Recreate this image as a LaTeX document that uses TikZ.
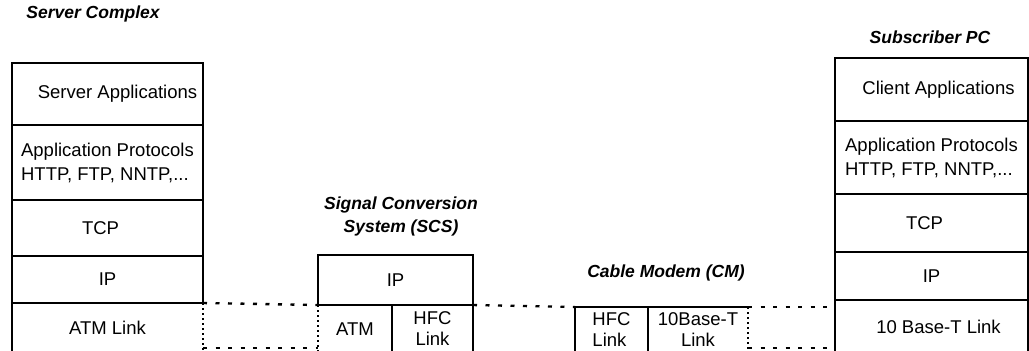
\documentclass[tikz,border=0pt]{standalone}
\usepackage{fontspec}
\setmainfont{Liberation Sans}
\usepackage{tikz}
\usetikzlibrary{positioning}

\newcommand{\lyrfont}{\fontsize{18.5}{21}\selectfont}
\newcommand{\ttlfont}{\fontsize{17.5}{23}\selectfont\bfseries\itshape}

\begin{document}
\begin{tikzpicture}[
			x=1pt, y=-1pt,
			layer/.style={
				draw,
				line width=2pt,
				anchor=north west,
				outer sep=0pt,
				inner sep=0pt,
				align=center,
				font=\lyrfont
			},
			linkcell/.style={layer, draw=none},
			title/.style={font=\ttlfont, align=center},
			edge/.style={line width=2pt},
			dotside/.style={line width=2pt, dash pattern=on 2pt off 3pt},
			wire/.style={line width=2.4pt, dash pattern=on 4pt off 8.5pt}
			]
			\useasboundingbox (0,0) rectangle (1029,351);
			
			% ---- Titles ----
			\node[title] (ltitle) at (93,14) {Server Complex};
			\node[title] (stitle) at (401,216) {Signal Conversion\\System (SCS)};
			\node[title] (ctitle) at (666,273) {Cable Modem (CM)};
			\node[title] (rtitle) at (930,37) {Subscriber PC};
			
			% ---- Server stack ----
			\node[layer, minimum width=191pt, minimum height=62pt] (lapp) at (12,63)
			{\hspace*{20pt}Server Applications};
			\node[layer, minimum width=191pt, minimum height=75pt, align=left,
			below=0pt of lapp.south west, anchor=north west] (lproto)
			{Application Protocols\\[3pt]HTTP, FTP, NNTP,...};
			\node[layer, minimum width=191pt, minimum height=56pt,
			below=0pt of lproto.south west, anchor=north west] (ltcp)
			{TCP\hspace*{14pt}};
			\node[layer, minimum width=191pt, minimum height=47pt,
			below=0pt of ltcp.south west, anchor=north west] (lip)
			{IP};
			\node[linkcell, minimum width=191pt, minimum height=50pt,
			below=0pt of lip.south west, anchor=north west] (llink)
			{ATM Link};
			
			% ---- SCS ----
			\node[layer, minimum width=155pt, minimum height=50pt] (sip) at (318,255)
			{IP};
			\node[linkcell, minimum width=74pt, minimum height=48pt,
			below=0pt of sip.south west, anchor=north west] (satm)
			{ATM};
			\node[layer, minimum width=81pt, minimum height=48pt,
			right=0pt of satm.north east, anchor=north west] (shfc)
			{HFC\\Link};
			
			% ---- Cable modem ----
			\node[layer, minimum width=73pt, minimum height=46pt, align=left] (chfc) at (575,307)
			{HFC\\Link};
			\node[linkcell, minimum width=100pt, minimum height=46pt,
			right=0pt of chfc.north east, anchor=north west] (cbase)
			{10Base-T\\Link};
			
			% ---- Subscriber stack ----
			\node[layer, minimum width=193pt, minimum height=63pt] (rapp) at (835,58)
			{\hspace*{14pt}Client Applications};
			\node[layer, minimum width=193pt, minimum height=73pt, align=left,
			below=0pt of rapp.south west, anchor=north west] (rproto)
			{Application Protocols\\[3pt]HTTP, FTP, NNTP,...};
			\node[layer, minimum width=193pt, minimum height=58pt,
			below=0pt of rproto.south west, anchor=north west] (rtcp)
			{TCP\hspace*{14pt}};
			\node[layer, minimum width=193pt, minimum height=48pt,
			below=0pt of rtcp.south west, anchor=north west] (rip)
			{IP};
			\node[layer, minimum width=193pt, minimum height=53pt,
			below=0pt of rip.south west, anchor=north west] (rlink)
			{\hspace*{14pt}10 Base-T Link};
			
			% ---- Link cell sides ----
			\draw[edge] (llink.north west) |- (llink.south east);
			\draw[dotside] (llink.north east) -- (llink.south east);
			\draw[edge] (satm.south west) -- (satm.south east);
			\draw[dotside] (satm.north west) -- (satm.south west);
			\draw[edge] (cbase.north west) -- (cbase.north east);
			\draw[edge] (cbase.south west) -- (cbase.south east);
			\draw[dotside] (cbase.north east) -- (cbase.south east);
			
			% ---- Dotted links ----
			\draw[wire] (llink.north east) -- (satm.north west);
			\draw[wire] (shfc.north east) -- (chfc.north west);
			\draw[wire] (cbase.north east) -- (cbase.north east -| rlink.west);
			\draw[wire] ([yshift=5pt]llink.south east) -- ([yshift=5pt]satm.south west);
			\draw[wire] ([yshift=5pt]cbase.south east) -- ([yshift=5pt]cbase.south east -| rlink.west);
			
		\end{tikzpicture}
\end{document}
